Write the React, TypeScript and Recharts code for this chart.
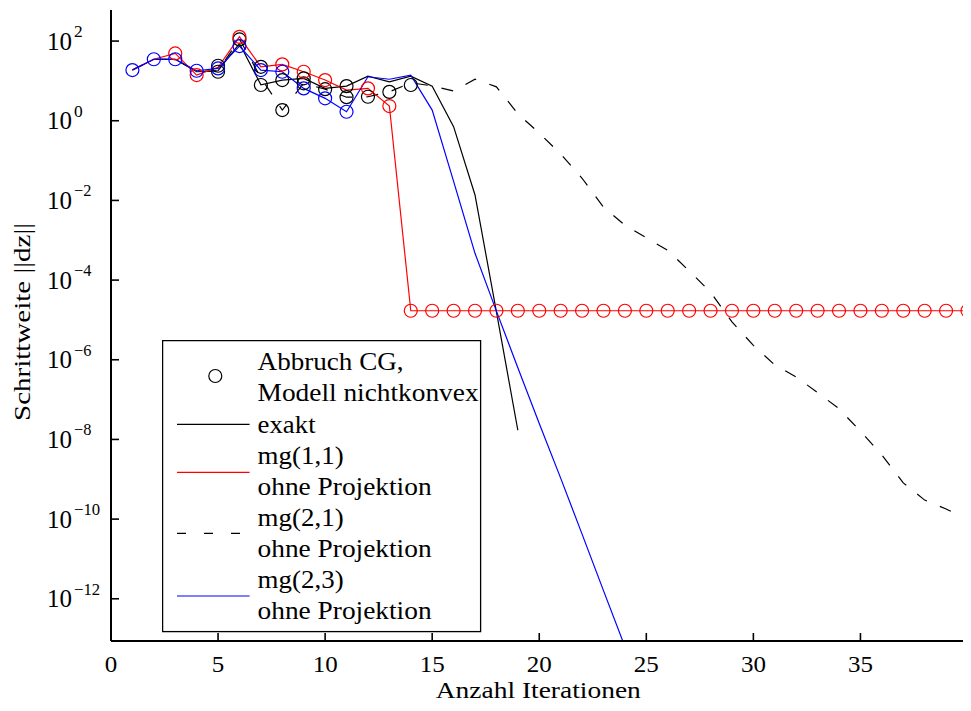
import React from "react";
import { ComposedChart, Line, Scatter, XAxis, YAxis } from "recharts";

// iteration numbers (x)
const iterations = [
  1, 2, 3, 4, 5, 6, 7, 8, 9, 10, 11, 12, 13, 14, 15, 16, 17, 18, 19, 20,
  21, 22, 23, 24, 25, 26, 27, 28, 29, 30, 31, 32, 33, 34, 35, 36, 37, 38, 39, 40,
];

// step size ||dz|| per iteration
const exakt = [
  18.7, 35, 35, 17, 18, 87, 8, 10.5, 11.6, 6.5, 7.4, 13.2, 9.5, 13.2, 7.4, 0.71,
  0.0137, 1.6e-5, 1.7e-8,
];
const mg11 = [
  18.7, 35, 49, 14, 22, 128, 22.6, 26, 17, 10.5, 5.9, 6.5, 2.34, 1.7e-5, 1.7e-5,
  1.7e-5, 1.7e-5, 1.7e-5, 1.7e-5, 1.7e-5, 1.7e-5, 1.7e-5, 1.7e-5, 1.7e-5, 1.7e-5,
  1.7e-5, 1.7e-5, 1.7e-5, 1.7e-5, 1.7e-5, 1.7e-5, 1.7e-5, 1.7e-5, 1.7e-5, 1.7e-5,
  1.7e-5, 1.7e-5, 1.7e-5, 1.7e-5, 1.7e-5,
];
const mg21 = [
  18.7, 35, 35, 17, 18, 112, 12, 1.85, 8.7, 6.2, 3.9, 4.0, 5.3, 9, 7.5, 5.6, 11,
  7.1, 1.5, 0.49, 0.146, 0.036, 6.8e-3, 2.4e-3, 1.15e-3, 5.6e-4, 1.7e-4, 5e-5,
  8.9e-6, 2.3e-6, 7.4e-7, 3.7e-7, 1.5e-7, 5.9e-8, 1.6e-8, 4.1e-9, 8.1e-10, 3e-10,
  1.8e-10, 1e-10,
];
const mg23 = [
  18.7, 35, 35, 18, 20.6, 75, 18.7, 17, 6.5, 3.65, 1.68, 12.7, 11, 14, 1.85, 0.03,
  4.7e-4, 1.66e-5, 6.3e-7, 2.5e-8, 1.07e-9, 4.2e-11, 1.6e-12, 6.3e-14,
];

// iterations where CG was aborted (circles)
const redCircleIters = [
  3, 4, 6, 8, 9, 10, 12, 13, 14, 15, 16, 17, 18, 19, 20, 21, 22, 23, 24, 25, 26,
  27, 28, 29, 30, 31, 32, 33, 34, 35, 36, 37, 38, 39, 40,
];
const blueCircleIters = [1, 2, 3, 4, 5, 6, 7, 8, 9, 10, 11];
const abbruchIters = [5, 5, 6, 7, 7, 8, 8, 9, 9, 10, 11, 11, 12, 13, 14];
const abbruchValues = [24, 17, 110, 22.6, 7.9, 10.5, 1.85, 11.6, 8.7, 6.2, 7.4, 3.9, 4.0, 5.3, 7.9];

const xTicks = [0, 5, 10, 15, 20, 25, 30, 35];
const yTicks = [1e2, 1, 1e-2, 1e-4, 1e-6, 1e-8, 1e-10, 1e-12];

const Y_MIN = Math.pow(10, -13.06);
const Y_MAX = Math.pow(10, 2.78);

const W = 963;
const H = 703;
const PLOT_LEFT = 103;
const PLOT_TOP = 2;
const PLOT_RIGHT = 959.5;
const PLOT_BOTTOM = 633;
const FONT = "Liberation Serif";
const FS = 24.5;

const rows = iterations.map((it, i) => ({
  it,
  exakt: exakt[i],
  mg11: mg11[i],
  mg21: mg21[i],
  mg23: mg23[i],
}));
const redPts = redCircleIters.map((it) => ({ it, v: mg11[it - 1] }));
const bluePts = blueCircleIters.map((it) => ({ it, v: mg23[it - 1] }));
const blackPts = abbruchIters.map((it, i) => ({ it, v: abbruchValues[i] }));

const ring = (color: string) => (p: any) => (
  <circle cx={p.cx} cy={p.cy} r={6.5} fill="none" stroke={color} strokeWidth={1.2} />
);

function LeftTick(p: any) {
  const y = p.y;
  const exp = Math.round(Math.log10(p.payload.value));
  const sup = exp < 0 ? "\u2212" + Math.abs(exp) : String(exp);
  return (
    <g>
      <line x1={PLOT_LEFT} x2={PLOT_LEFT + 8} y1={y} y2={y} stroke="#000" strokeWidth={1.6} />
      <text x={39} y={y + 8.5} fontSize={FS} fontFamily={FONT} textLength={25} lengthAdjust="spacingAndGlyphs">
        10
      </text>
      <text x={66} y={y - 4} fontSize={17} fontFamily={FONT} textLength={sup.length * 8.7} lengthAdjust="spacingAndGlyphs">
        {sup}
      </text>
    </g>
  );
}

function RightTick(p: any) {
  return <line x1={PLOT_RIGHT} x2={PLOT_RIGHT - 8} y1={p.y} y2={p.y} stroke="#000" strokeWidth={1.6} />;
}

function BottomTick(p: any) {
  const label = String(p.payload.value);
  return (
    <g>
      <line x1={p.x} x2={p.x} y1={PLOT_BOTTOM} y2={PLOT_BOTTOM - 8} stroke="#000" strokeWidth={1.6} />
      <text x={p.x} y={663.5} fontSize={23.5} fontFamily={FONT} textAnchor="middle" textLength={label.length * 12.5} lengthAdjust="spacingAndGlyphs">
        {label}
      </text>
    </g>
  );
}

function TopTick(p: any) {
  return <line x1={p.x} x2={p.x} y1={PLOT_TOP} y2={PLOT_TOP + 8} stroke="#000" strokeWidth={1.6} />;
}

function LegendBox() {
  const tx = 95.6;
  const txt = (y: number, s: string, len: number) => (
    <text x={tx} y={y} fontSize={FS} fontFamily={FONT} textLength={len} lengthAdjust="spacingAndGlyphs">
      {s}
    </text>
  );
  return (
    <svg width={320} height={293} style={{ position: "absolute", left: 153.7, top: 332 }}>
      <rect x={0.6} y={0.6} width={318} height={291} fill="#fff" stroke="#000" strokeWidth={1.3} />
      <circle cx={53.3} cy={36} r={6.5} fill="none" stroke="#000" strokeWidth={1.2} />
      {txt(30, "Abbruch CG,", 146)}
      {txt(61, "Modell nichtkonvex", 221)}
      <line x1={15} x2={87.6} y1={84.3} y2={84.3} stroke="#000" strokeWidth={1.2} />
      {txt(93, "exakt", 58)}
      <line x1={15} x2={87.6} y1={132.3} y2={132.3} stroke="#ff0000" strokeWidth={1.2} />
      {txt(124, "mg(1,1)", 86)}
      {txt(155, "ohne Projektion", 174)}
      <line x1={15} x2={87.6} y1={193.3} y2={193.3} stroke="#000" strokeWidth={1.2} strokeDasharray="9 18" />
      {txt(186, "mg(2,1)", 86)}
      {txt(217, "ohne Projektion", 174)}
      <line x1={15} x2={87.6} y1={256} y2={256} stroke="#0000ff" strokeWidth={1.2} />
      {txt(248, "mg(2,3)", 86)}
      {txt(279, "ohne Projektion", 174)}
    </svg>
  );
}

export default function App() {
  return (
    <div style={{ position: "relative", width: W, height: H }}>
      <ComposedChart width={W} height={H} data={rows} margin={{ top: PLOT_TOP, right: W - PLOT_RIGHT, bottom: 0, left: 0 }}>
        <XAxis
          dataKey="it"
          type="number"
          domain={[0, 40]}
          ticks={xTicks}
          height={H - PLOT_BOTTOM}
          tickLine={false}
          tickSize={0}
          axisLine={{ stroke: "#000", strokeWidth: 2 }}
          tick={<BottomTick />}
        />
        <XAxis
          xAxisId="top"
          orientation="top"
          dataKey="it"
          type="number"
          domain={[0, 40]}
          ticks={xTicks}
          height={0}
          tickLine={false}
          tickSize={0}
          axisLine={{ stroke: "#000", strokeWidth: 2 }}
          tick={<TopTick />}
        />
        <YAxis
          type="number"
          scale="log"
          domain={[Y_MIN, Y_MAX]}
          allowDataOverflow
          ticks={yTicks}
          width={PLOT_LEFT}
          tickLine={false}
          tickSize={0}
          axisLine={{ stroke: "#000", strokeWidth: 2 }}
          tick={<LeftTick />}
        />
        <YAxis
          yAxisId="right"
          orientation="right"
          type="number"
          scale="log"
          domain={[Y_MIN, Y_MAX]}
          allowDataOverflow
          ticks={yTicks}
          width={0}
          tickLine={false}
          tickSize={0}
          axisLine={{ stroke: "#000", strokeWidth: 2 }}
          tick={<RightTick />}
        />
        <Line dataKey="mg21" stroke="#000" strokeWidth={1.2} strokeDasharray="12 14" dot={false} activeDot={false} isAnimationActive={false} />
        <Line dataKey="exakt" stroke="#000" strokeWidth={1.2} dot={false} activeDot={false} isAnimationActive={false} />
        <Line dataKey="mg11" stroke="#ff0000" strokeWidth={1.2} dot={false} activeDot={false} isAnimationActive={false} />
        <Line dataKey="mg23" stroke="#0000ff" strokeWidth={1.2} dot={false} activeDot={false} isAnimationActive={false} />
        <Scatter data={blackPts} dataKey="v" shape={ring("#000")} isAnimationActive={false} />
        <Scatter data={redPts} dataKey="v" shape={ring("#ff0000")} isAnimationActive={false} />
        <Scatter data={bluePts} dataKey="v" shape={ring("#0000ff")} isAnimationActive={false} />
      </ComposedChart>
      <svg width={W} height={H} style={{ position: "absolute", left: 0, top: 0, pointerEvents: "none" }}>
        <text x={530.3} y={689.5} fontSize={23} fontFamily={FONT} textAnchor="middle" textLength={205} lengthAdjust="spacingAndGlyphs">
          Anzahl Iterationen
        </text>
        <text transform="translate(22,314) rotate(-90)" fontSize={23} fontFamily={FONT} textAnchor="middle" textLength={198} lengthAdjust="spacingAndGlyphs">
          Schrittweite ||dz||
        </text>
      </svg>
      <LegendBox />
    </div>
  );
}
